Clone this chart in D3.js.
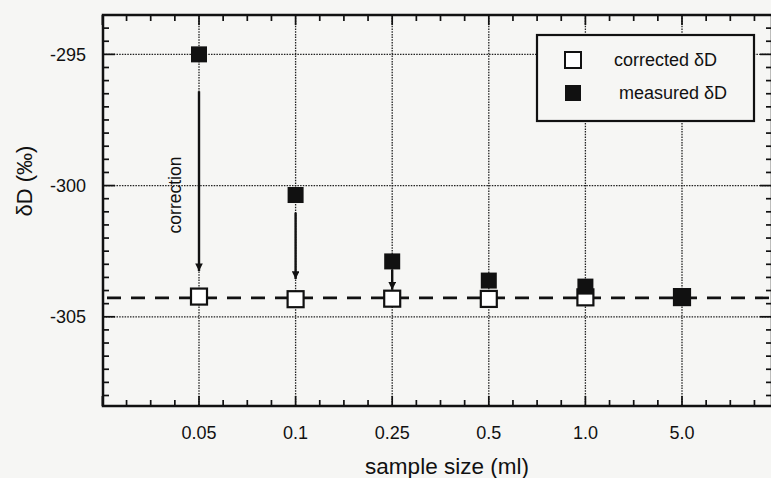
<!DOCTYPE html>
<html>
<head>
<meta charset="utf-8">
<script src="https://cdn.jsdelivr.net/npm/d3@7"></script>
<style>
    html, body { margin: 0; padding: 0; background: #f6f6f4; }
    svg { display: block; font-family: "Liberation Sans", Arial, Helvetica, sans-serif; }
</style>
</head>
<body>
<svg id="chart" width="771" height="478"></svg>
<script>
// sample sizes on the x axis (categorical)
var sizes = ['0.05', '0.1', '0.25', '0.5', '1.0', '5.0'];

// delta D values (permil)
var measured  = [-295.0, -300.36, -302.89, -303.62, -303.85, -304.25];
var corrected = [-304.23, -304.33, -304.31, -304.32, -304.26, -304.25];

// mean corrected value (dashed line)
var correctedMean = -304.28;

// correction arrows: only the three smallest samples
var arrowSizes = ['0.05', '0.1', '0.25'];
var arrowFrom  = [-296.41, -301.03, -303.2];
var arrowTo    = [-303.26, -303.56, -303.97];

var yTicks = [-295, -300, -305];
var legendItems = ['corrected \u03b4D', 'measured \u03b4D'];

(function () {

    var svg = d3.select('#chart');

    // plot frame (right edge sits just past the window, like the scan)
    var pLeft = 103, pRight = 772, pTop = 15, pBottom = 406;

    var x = d3.scalePoint()
        .domain(sizes)
        .range([199, 682]);
    var step = x.step();

    var y = d3.scaleLinear()
        .domain([-308.4, -293.5])
        .range([pBottom, pTop]);

    var ink = '#111';

    // dotted grid
    var grid = svg.append('g').attr('class', 'grid')
        .attr('stroke', '#222')
        .attr('stroke-width', 1.3)
        .attr('stroke-dasharray', '1.5,1.2');

    grid.selectAll('line.h')
        .data(yTicks)
        .enter().append('line')
        .attr('class', 'h')
        .attr('x1', pLeft).attr('x2', pRight)
        .attr('y1', function (d) { return y(d); })
        .attr('y2', function (d) { return y(d); });

    grid.selectAll('line.v')
        .data(sizes)
        .enter().append('line')
        .attr('class', 'v')
        .attr('x1', function (d) { return x(d); })
        .attr('x2', function (d) { return x(d); })
        .attr('y1', pTop).attr('y2', pBottom);

    // minor/major ticks along x (quarter steps), top and bottom
    var xTickPos = [];
    for (var t = x(sizes[0]) - step; t < pRight; t += step / 4) {
        xTickPos.push(t);
    }
    var ticks = svg.append('g').attr('stroke', ink).attr('stroke-width', 1.7);

    xTickPos.forEach(function (p, i) {
        var major = (i % 4) === 0;
        var len = major ? 10 : 6;
        ticks.append('line').attr('x1', p).attr('x2', p).attr('y1', pTop).attr('y2', pTop + len);
        ticks.append('line').attr('x1', p).attr('x2', p).attr('y1', pBottom).attr('y2', pBottom - len);
    });

    // y ticks every 0.5 permil, left and right
    var yTickVals = d3.range(-308, -293.5 + 0.001, 0.5);
    yTickVals.forEach(function (v) {
        var major = (v % 5) === 0;
        var len = major ? 12 : 6;
        ticks.append('line').attr('x1', pLeft).attr('x2', pLeft + len).attr('y1', y(v)).attr('y2', y(v));
        ticks.append('line').attr('x1', pRight).attr('x2', pRight - len).attr('y1', y(v)).attr('y2', y(v));
    });

    // frame
    svg.append('rect')
        .attr('x', pLeft).attr('y', pTop)
        .attr('width', pRight - pLeft).attr('height', pBottom - pTop)
        .attr('fill', 'none')
        .attr('stroke', ink)
        .attr('stroke-width', 2.5);

    // tick labels
    svg.append('g').selectAll('text')
        .data(yTicks)
        .enter().append('text')
        .attr('x', 86)
        .attr('y', function (d) { return y(d); })
        .attr('dy', '0.35em')
        .attr('text-anchor', 'end')
        .attr('font-size', 18)
        .attr('fill', ink)
        .text(function (d) { return d; });

    svg.append('g').selectAll('text')
        .data(sizes)
        .enter().append('text')
        .attr('x', function (d) { return x(d); })
        .attr('y', 439)
        .attr('text-anchor', 'middle')
        .attr('font-size', 18)
        .attr('fill', ink)
        .text(function (d) { return d; });

    // axis titles
    svg.append('text')
        .attr('x', 447).attr('y', 474)
        .attr('text-anchor', 'middle')
        .attr('font-size', 22.5)
        .attr('fill', ink)
        .text('sample size (ml)');

    svg.append('text')
        .attr('transform', 'translate(32,181) rotate(-90)')
        .attr('text-anchor', 'middle')
        .attr('font-size', 22)
        .attr('fill', ink)
        .text('\u03b4D (\u2030)');

    // dashed line at the corrected value
    svg.append('line')
        .attr('x1', pLeft).attr('x2', pRight)
        .attr('y1', y(correctedMean)).attr('y2', y(correctedMean))
        .attr('stroke', ink)
        .attr('stroke-width', 2.6)
        .attr('stroke-dasharray', '14,10')
        .attr('stroke-dashoffset', -4);

    // correction arrows
    svg.append('defs').append('marker')
        .attr('id', 'head')
        .attr('viewBox', '0 0 10 10')
        .attr('refX', 10).attr('refY', 5)
        .attr('markerWidth', 3.6).attr('markerHeight', 3.2)
        .attr('markerUnits', 'strokeWidth')
        .attr('orient', 'auto')
        .append('path')
        .attr('d', 'M0,0L10,5L0,10Z')
        .attr('fill', ink);

    svg.append('g').selectAll('line')
        .data(arrowSizes)
        .enter().append('line')
        .attr('x1', function (d) { return x(d); })
        .attr('x2', function (d) { return x(d); })
        .attr('y1', function (d, i) { return y(arrowFrom[i]); })
        .attr('y2', function (d, i) { return y(arrowTo[i]); })
        .attr('stroke', ink)
        .attr('stroke-width', 2.4)
        .attr('marker-end', 'url(#head)');

    svg.append('text')
        .attr('transform', 'translate(181,195) rotate(-90)')
        .attr('text-anchor', 'middle')
        .attr('font-size', 17.5)
        .attr('fill', ink)
        .text('correction');

    // markers
    var sq = 16;
    svg.append('g').selectAll('rect')
        .data(corrected)
        .enter().append('rect')
        .attr('x', function (d, i) { return x(sizes[i]) - sq / 2; })
        .attr('y', function (d) { return y(d) - sq / 2; })
        .attr('width', sq).attr('height', sq)
        .attr('fill', '#fff')
        .attr('stroke', ink)
        .attr('stroke-width', 2.2);

    svg.append('g').selectAll('rect')
        .data(measured)
        .enter().append('rect')
        .attr('x', function (d, i) { return x(sizes[i]) - sq / 2; })
        .attr('y', function (d) { return y(d) - sq / 2; })
        .attr('width', sq).attr('height', sq)
        .attr('fill', ink);

    // legend
    var legend = svg.append('g').attr('transform', 'translate(537,35)');
    legend.append('rect')
        .attr('width', 217).attr('height', 86)
        .attr('fill', '#f6f6f4')
        .attr('stroke', ink)
        .attr('stroke-width', 2.2);

    legendItems.forEach(function (label, i) {
        var cy = 25 + i * 33;
        legend.append('rect')
            .attr('x', 28).attr('y', cy - 8)
            .attr('width', 16).attr('height', 16)
            .attr('fill', i === 0 ? '#fff' : ink)
            .attr('stroke', ink)
            .attr('stroke-width', i === 0 ? 2 : 0);
        legend.append('text')
            .attr('x', i === 0 ? 77 : 82).attr('y', cy)
            .attr('dy', '0.35em')
            .attr('font-size', 18)
            .attr('fill', ink)
            .text(label);
    });

})();
</script>
</body>
</html>
